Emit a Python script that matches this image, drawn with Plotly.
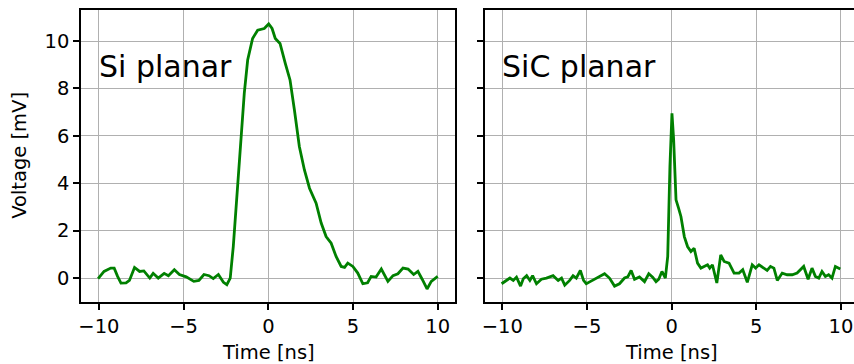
import plotly.graph_objects as go

# ---- data ----
si_time = [-10.05, -9.7, -9.3, -9.1, -8.9, -8.7, -8.4, -8.2, -7.9, -7.6, -7.35, -7.0, -6.8, -6.5,
           -6.15, -5.9, -5.55, -5.25, -4.85, -4.4, -4.1, -3.8, -3.5, -3.25, -2.95, -2.65, -2.45,
           -2.25, -2.07, -1.8, -1.6, -1.42, -1.22, -0.93, -0.63, -0.45, -0.24, 0.02, 0.22, 0.41,
           0.69, 1.0, 1.28, 1.54, 1.83, 2.13, 2.43, 2.82, 3.12, 3.41, 3.71, 4.0, 4.3, 4.5, 4.69,
           4.99, 5.28, 5.58, 5.86, 6.07, 6.36, 6.67, 7.06, 7.36, 7.65, 7.95, 8.25, 8.58, 8.83,
           9.09, 9.37, 9.62, 10.0]
si_volt = [-0.02, 0.28, 0.42, 0.42, 0.07, -0.21, -0.2, -0.1, 0.45, 0.28, 0.3, 0.0, 0.2, 0.0,
           0.2, 0.1, 0.35, 0.15, 0.05, -0.14, -0.1, 0.15, 0.1, -0.02, 0.15, -0.18, -0.28,
           0.0, 1.33, 3.86, 5.83, 7.8, 9.2, 10.11, 10.46, 10.5, 10.53, 10.72, 10.53, 10.11,
           9.9, 9.06, 8.36, 7.09, 5.55, 4.56, 3.79, 3.16, 2.32, 1.75, 1.47, 0.91, 0.49, 0.45, 0.63,
           0.49, 0.21, -0.24, -0.2, 0.07, 0.04, 0.38, -0.14, 0.1, 0.18, 0.42, 0.38, 0.15, 0.28,
           -0.06, -0.46, -0.14, 0.07]

sic_time = [-10.04, -9.74, -9.55, -9.35, -9.16, -8.92, -8.76, -8.56, -8.37, -8.21, -7.98, -7.69,
            -7.39, -7.0, -6.7, -6.5, -6.31, -6.02, -5.82, -5.63, -5.39, -5.2, -5.04, -4.81, -4.55,
            -4.25, -3.96, -3.67, -3.37, -3.08, -2.78, -2.59, -2.39, -2.19, -1.9, -1.6, -1.35,
            -1.12, -0.92, -0.76, -0.57, -0.37, -0.23, -0.1, 0.02, 0.12, 0.26, 0.41, 0.55, 0.75,
            0.94, 1.14, 1.33, 1.53, 1.73, 1.92, 2.12, 2.25, 2.41, 2.67, 2.9, 3.1, 3.39, 3.69,
            3.98, 4.2, 4.47, 4.76, 4.96, 5.16, 5.45, 5.64, 5.84, 6.04, 6.24, 6.53, 6.82, 7.12,
            7.41, 7.61, 7.8, 8.06, 8.29, 8.49, 8.69, 8.88, 9.08, 9.27, 9.47, 9.67, 9.96]
sic_volt = [-0.24, -0.1, 0.0, -0.1, 0.04, -0.34, -0.03, 0.1, -0.1, 0.1, -0.24, -0.05,
            0.0, 0.1, -0.1, 0.0, -0.3, -0.1, 0.1, 0.0, 0.32, -0.1, -0.24, -0.15, -0.05,
            0.1, 0.18, 0.0, -0.34, -0.24, 0.0, 0.05, 0.32, -0.05, 0.05, -0.15, 0.18,
            0.04, -0.15, -0.05, 0.28, 0.0, 0.91, 4.7, 6.95, 5.83, 3.3, 2.95, 2.6, 1.75,
            1.33, 1.12, 1.26, 0.63, 0.42, 0.49, 0.56, 0.42, 0.56, -0.21, 0.98, 0.7, 0.63, 0.21,
            0.21, 0.35, -0.18, 0.56, 0.42, 0.56, 0.42, 0.32, 0.49, 0.42, -0.1, 0.21, 0.14, 0.14,
            0.21, 0.35, 0.49, -0.05, 0.42, 0.07, 0.0, 0.28, 0.07, 0.14, 0.0, 0.49, 0.38]

x_ticks = [-10, -5, 0, 5, 10]
y_ticks = [0, 2, 4, 6, 8, 10]
panel_labels = ["Si planar", "SiC planar"]
x_title = "Time [ns]"
y_title = "Voltage [mV]"

# ---- figure ----
W, H = 854, 364
TOP, BOTTOM = 10, 302.3
PH = BOTTOM - TOP
FONT = "DejaVu Sans"
LINE = "#008000"
FS = 19.5

fig = go.Figure()
fig.add_trace(go.Scatter(x=si_time, y=si_volt, mode="lines",
                         line=dict(color=LINE, width=2.8), xaxis="x", yaxis="y",
                         showlegend=False, hoverinfo="skip"))
fig.add_trace(go.Scatter(x=sic_time, y=sic_volt, mode="lines",
                         line=dict(color=LINE, width=2.8), xaxis="x2", yaxis="y2",
                         showlegend=False, hoverinfo="skip"))

tickfont = dict(size=FS, color="black", family=FONT)
common_x = dict(tickvals=x_ticks,
                ticktext=[("\u2212" + str(-t)) if t < 0 else str(t) for t in x_ticks],
                showgrid=True, gridcolor="#b0b0b0", gridwidth=1.3,
                showline=True, linecolor="black", linewidth=1.5,
                ticks="outside", ticklen=6, tickwidth=1.5, tickcolor="black",
                zeroline=False, tickfont=tickfont, automargin=False)
common_y = dict(tickvals=y_ticks, range=[-1.01, 11.31],
                showgrid=True, gridcolor="#b0b0b0", gridwidth=1.3,
                showline=True, linecolor="black", linewidth=1.5,
                ticks="outside", ticklen=6, tickwidth=1.5, tickcolor="black",
                zeroline=False, tickfont=tickfont, automargin=False)

fig.update_layout(
    width=W, height=H,
    margin=dict(l=0, r=0, t=TOP, b=H - BOTTOM, pad=0),
    paper_bgcolor="white", plot_bgcolor="white",
    font=dict(family=FONT, color="black"),
    xaxis=dict(domain=[81 / W, 455 / W], range=[-11.06, 11.02], mirror=True, anchor="y", **common_x),
    xaxis2=dict(domain=[485 / W, 1.0], range=[-11.02, 10.77], mirror=True, anchor="y2", **common_x),
    yaxis=dict(domain=[0, 1], anchor="x", mirror=True, **common_y),
    yaxis2=dict(domain=[0, 1], anchor="x2", matches="y", showticklabels=False, mirror=False,
                **common_y),
)

for ax, label in zip(["x", "x2"], panel_labels):
    fig.add_annotation(x=-10, y=8.5, xref=ax, yref="y", text=label, showarrow=False,
                       xanchor="left", yanchor="middle", yshift=10, xshift=-2,
                       font=dict(size=30, color="black", family=FONT))
    # x-axis titles
    fig.add_annotation(x=0, y=(BOTTOM - 353) / PH, xref=ax, yref="paper", text=x_title,
                       showarrow=False, xanchor="center", yanchor="middle",
                       font=dict(size=FS, color="black", family=FONT))

fig.add_annotation(x=20 / W, y=(BOTTOM - 156) / PH, xref="paper", yref="paper", text=y_title,
                   textangle=-90, showarrow=False, xanchor="center", yanchor="middle",
                   font=dict(size=FS, color="black", family=FONT))

fig.write_html("out.html", config={"displayModeBar": False},
               post_script="document.body.style.margin='0';")
